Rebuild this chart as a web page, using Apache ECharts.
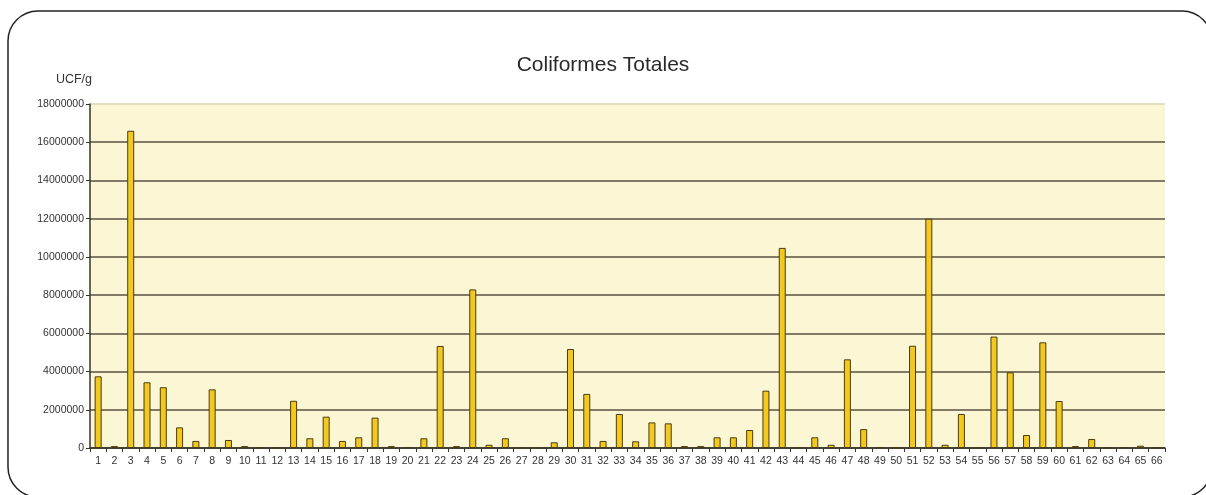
<!DOCTYPE html>
<html>
<head>
<meta charset="utf-8">
<script src="https://cdn.jsdelivr.net/npm/echarts@6/dist/echarts.min.js"></script>
<style>
html,body{margin:0;padding:0;background:#fff;}
#c{width:1206px;height:495px;}
</style>
</head>
<body>
<div id="c"></div>
<script>
const titleText = 'Coliformes Totales';
const yUnit = 'UCF/g';
const categories = [];
for (let i = 1; i <= 66; i++) categories.push(String(i));
const values = [
  3750000, 100000, 16600000, 3440000, 3180000, 1080000, 370000, 3070000, 420000, 100000,
  0, 0, 2470000, 510000, 1640000, 370000, 560000, 1590000, 100000, 50000,
  510000, 5340000, 100000, 8300000, 170000, 510000, 0, 0, 300000, 5180000,
  2830000, 370000, 1780000, 350000, 1340000, 1290000, 100000, 100000, 560000, 560000,
  940000, 3000000, 10470000, 0, 560000, 170000, 4640000, 990000, 50000, 0,
  5350000, 12000000, 170000, 1780000, 0, 5830000, 3960000, 680000, 5530000, 2460000,
  100000, 470000, 0, 50000, 120000, 0
];
const yMin = 0, yMax = 18000000, yStep = 2000000;

const chart = echarts.init(document.getElementById('c'), null, {renderer: 'canvas'});
chart.setOption({
  animation: false,
  backgroundColor: '#ffffff',
  title: {
    text: titleText,
    left: 'center',
    top: 50,
    textStyle: {fontFamily: 'Liberation Sans, Arial, sans-serif', fontSize: 21, fontWeight: 'normal', color: '#2a2a2a'}
  },
  graphic: [{
    type: 'rect',
    z: -10,
    shape: {x: 8, y: 11, width: 1204, height: 486, r: 30},
    style: {fill: 'none', stroke: '#222', lineWidth: 1.5}
  }],
  grid: {
    left: 90, right: 41, top: 104, bottom: 47,
    show: true, backgroundColor: '#fbf7d4', borderWidth: 0
  },
  xAxis: {
    type: 'category',
    data: categories,
    boundaryGap: true,
    axisLine: {lineStyle: {color: '#3a3428', width: 1.5}},
    axisTick: {show: true, length: 4, lineStyle: {color: '#3a3428'}},
    axisLabel: {interval: 0, margin: 8, fontFamily: 'Liberation Sans, Arial, sans-serif', fontSize: 10.5, color: '#333'}
  },
  yAxis: {
    type: 'value',
    min: yMin, max: yMax, interval: yStep,
    name: yUnit,
    nameLocation: 'end',
    nameGap: 24,
    nameTextStyle: {align: 'right', verticalAlign: 'middle', fontFamily: 'Liberation Sans, Arial, sans-serif', fontSize: 12.5, color: '#333', padding: [0, -2, 0, 0]},
    axisLine: {show: true, lineStyle: {color: '#3a3428', width: 1.5}},
    axisTick: {show: true, length: 4, lineStyle: {color: '#3a3428'}},
    axisLabel: {margin: 6, formatter: function (v) { return String(v); }, fontFamily: 'Liberation Sans Narrow, Liberation Sans, Arial, sans-serif', fontSize: 10.5, color: '#333'},
    splitLine: {show: true, lineStyle: {color: ['#3a3428', '#5a5040', '#5a5040', '#5a5040', '#5a5040', '#5a5040', '#5a5040', '#5a5040', '#5a5040', '#ddd5ae'], width: 1.5}}
  },
  series: [{
    type: 'bar',
    data: values,
    barWidth: 7,
    itemStyle: {color: '#f3c91f', borderColor: '#4a3c12', borderWidth: 1}
  }]
});
</script>
</body>
</html>
